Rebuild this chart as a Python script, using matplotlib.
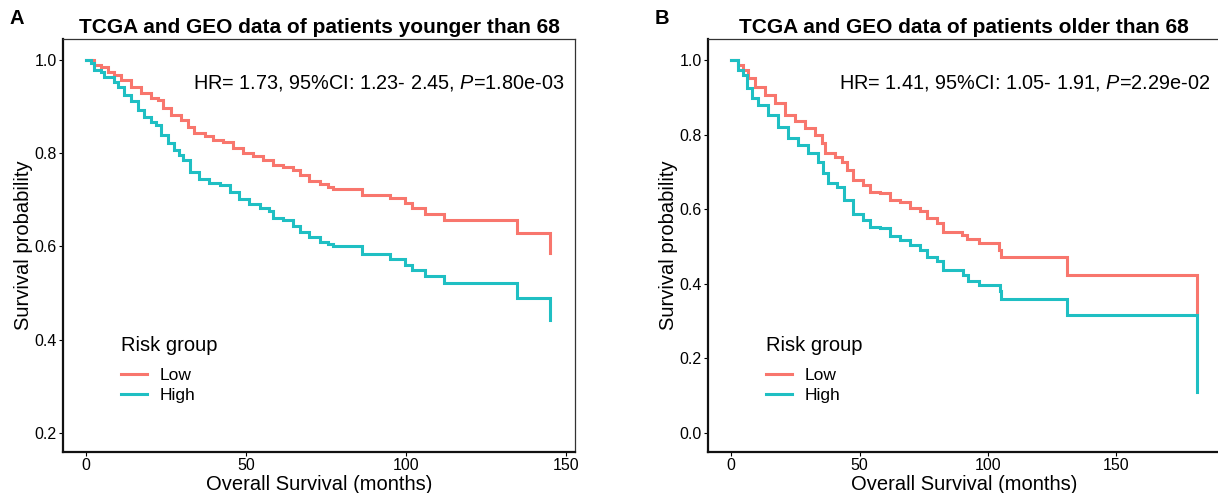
import matplotlib
matplotlib.use("Agg")
import matplotlib.pyplot as plt
from matplotlib.lines import Line2D

plt.rcParams['font.family'] = ['Liberation Sans', 'DejaVu Sans']
plt.rcParams['mathtext.fontset'] = 'custom'
plt.rcParams['mathtext.rm'] = 'Liberation Sans'
plt.rcParams['mathtext.it'] = 'Liberation Sans:italic'

# ---------------- data ----------------
a_low_t = [0, 2.5, 4.6, 6.7, 8.8, 10.9, 14.0, 17.1, 20.3, 22.3, 23.9, 26.5, 29.7, 31.7, 33.8,
           37.0, 39.6, 42.7, 45.8, 49.0, 52.1, 55.2, 58.3, 61.5, 64.6, 66.7, 69.8, 73.0, 75.6,
           77.0, 86.3, 95.1, 99.8, 101.8, 105.9, 111.8, 134.7, 145.0]
a_low_s = [1.0, 0.989, 0.986, 0.975, 0.968, 0.957, 0.943, 0.929, 0.919, 0.914, 0.896, 0.882,
           0.871, 0.857, 0.843, 0.836, 0.828, 0.823, 0.811, 0.800, 0.793, 0.785, 0.775, 0.771,
           0.764, 0.753, 0.740, 0.735, 0.728, 0.724, 0.710, 0.703, 0.693, 0.682, 0.670, 0.657,
           0.628, 0.585]
a_high_t = [0, 1.5, 2.5, 4.6, 5.6, 8.8, 9.8, 11.9, 14.0, 16.1, 18.2, 20.3, 21.8, 23.4, 25.5,
            27.6, 29.1, 30.2, 32.3, 35.4, 38.5, 41.7, 44.8, 47.9, 51.0, 54.2, 57.3, 58.3, 61.5,
            64.6, 66.7, 69.8, 73.0, 75.6, 77.0, 86.3, 95.1, 99.8, 101.8, 105.9, 111.8, 134.7, 145.0]
a_high_s = [1.0, 0.993, 0.979, 0.975, 0.964, 0.953, 0.943, 0.925, 0.911, 0.893, 0.878, 0.868,
            0.861, 0.839, 0.821, 0.807, 0.796, 0.785, 0.760, 0.744, 0.737, 0.732, 0.717, 0.701,
            0.691, 0.682, 0.677, 0.660, 0.657, 0.644, 0.632, 0.620, 0.610, 0.605, 0.601, 0.583,
            0.574, 0.561, 0.549, 0.536, 0.521, 0.489, 0.443]

b_low_t = [0, 2.7, 4.7, 6.6, 9.2, 13.1, 17.0, 20.9, 24.8, 28.7, 32.6, 35.2, 36.5, 40.4, 43.0,
           45.0, 47.6, 51.5, 54.1, 58.0, 62.0, 65.8, 69.7, 73.6, 76.2, 80.1, 82.7, 89.9, 91.8,
           96.4, 104.2, 105.1, 130.8, 181.4]
b_low_s = [1.0, 0.987, 0.973, 0.951, 0.928, 0.906, 0.884, 0.853, 0.835, 0.817, 0.799, 0.777,
           0.750, 0.741, 0.727, 0.705, 0.678, 0.665, 0.647, 0.644, 0.625, 0.620, 0.603, 0.594,
           0.576, 0.563, 0.540, 0.531, 0.520, 0.509, 0.491, 0.471, 0.423, 0.322]
b_high_t = [0, 2.7, 4.7, 6.0, 7.9, 10.5, 14.4, 18.3, 22.2, 26.1, 30.0, 33.9, 35.8, 37.8, 41.2,
            43.8, 47.6, 51.5, 54.1, 58.0, 62.0, 65.8, 69.7, 73.6, 76.2, 80.1, 82.7, 90.5, 92.4,
            96.4, 104.8, 105.1, 130.8, 181.4]
b_high_s = [1.0, 0.973, 0.960, 0.924, 0.897, 0.879, 0.853, 0.821, 0.790, 0.772, 0.750, 0.727,
            0.696, 0.670, 0.660, 0.625, 0.588, 0.571, 0.552, 0.549, 0.527, 0.517, 0.504, 0.491,
            0.473, 0.460, 0.437, 0.424, 0.407, 0.396, 0.380, 0.360, 0.315, 0.110]

group_labels = ["Low", "High"]
titles = ["TCGA and GEO data of patients younger than 68",
          "TCGA and GEO data of patients older than 68"]
hr_texts = ["HR= 1.73, 95%CI: 1.23- 2.45, $\\it{P}$=1.80e-03",
            "HR= 1.41, 95%CI: 1.05- 1.91, $\\it{P}$=2.29e-02"]
panel_letters = ["A", "B"]
x_ticks = [0, 50, 100, 150]
a_y_ticks = [0.2, 0.4, 0.6, 0.8, 1.0]
b_y_ticks = [0.0, 0.2, 0.4, 0.6, 0.8, 1.0]

RED = "#F8766D"
TEAL = "#1FBFC3"

W, H = 1218, 493
fig = plt.figure(figsize=(W / 100, H / 100), dpi=100)

def px_axes(l, t, r, b):
    return fig.add_axes([l / W, 1 - b / H, (r - l) / W, (b - t) / H])

axA = px_axes(63, 39, 575, 452)
axB = px_axes(708, 39, 1220, 452)

panels = [
    (axA, a_low_t, a_low_s, a_high_t, a_high_s, (-7.25, 152.8), (0.159, 1.045), a_y_ticks),
    (axB, b_low_t, b_low_s, b_high_t, b_high_s, (-9.07, 190.5), (-0.051, 1.056), b_y_ticks),
]

for i, (ax, lt, ls, ht, hs, xl, yl, yt) in enumerate(panels):
    ax.plot(lt, ls, drawstyle="steps-post", color=RED, lw=2.2, solid_joinstyle="miter")
    ax.plot(ht, hs, drawstyle="steps-post", color=TEAL, lw=2.2, solid_joinstyle="miter")
    ax.set_xlim(*xl)
    ax.set_ylim(*yl)
    ax.set_xticks(x_ticks)
    ax.set_yticks(yt)
    ax.set_yticklabels([f"{v:.1f}" for v in yt])
    ax.tick_params(axis="both", labelsize=11.5, length=3, width=0.8, color="black",
                   labelcolor="black", pad=1.5)
    for s in ["left", "bottom"]:
        ax.spines[s].set_linewidth(1.6)
        ax.spines[s].set_color("#111111")
    for s in ["top", "right"]:
        ax.spines[s].set_linewidth(0.9)
        ax.spines[s].set_color("#333333")
    ax.set_xlabel("Overall Survival (months)", fontsize=14.5, labelpad=1)
    ax.set_ylabel("Survival probability", fontsize=14.5)
    ax.yaxis.set_label_coords(-0.058, 0.5)
    ax.set_title(titles[i], fontsize=15, fontweight="bold", pad=4)
    ax.text(0.98, 0.893, hr_texts[i], transform=ax.transAxes, ha="right", va="center",
            fontsize=14.3)
    handles = [Line2D([], [], color=RED, lw=2.2), Line2D([], [], color=TEAL, lw=2.2)]
    leg = ax.legend(handles, group_labels, title="Risk group", loc="upper left",
                    bbox_to_anchor=(0.114, 0.28), frameon=False, fontsize=12.5,
                    title_fontsize=14.5, handlelength=1.45, handletextpad=0.75,
                    labelspacing=0.3, borderpad=0, borderaxespad=0)
    leg._legend_box.align = "left"
    leg._legend_box.sep = 9

fig.text(10 / W, 1 - 18 / H, "A", fontsize=14.5, fontweight="bold", va="center", ha="left")
fig.text(655 / W, 1 - 18 / H, "B", fontsize=14.5, fontweight="bold", va="center", ha="left")

fig.savefig("out.png", dpi=100)
